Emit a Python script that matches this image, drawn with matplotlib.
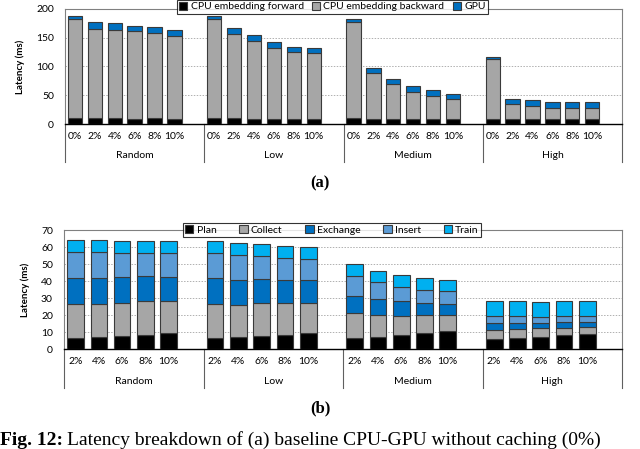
import matplotlib.pyplot as plt
import numpy as np
from matplotlib.transforms import blended_transform_factory

# ---- data (ms) ----
groups = ['Random', 'Low', 'Medium', 'High']
pct_a = ['0%', '2%', '4%', '6%', '8%', '10%']
pct_b = ['2%', '4%', '6%', '8%', '10%']

# panel (a): per group, per cache ratio
cpu_fwd = [[10, 10, 10, 9, 10, 9],
           [10, 10, 9, 9, 9, 9],
           [10, 8, 8, 8, 8, 8],
           [8, 8, 8, 8, 8, 8]]
cpu_bwd = [[173, 156, 154, 152, 149, 144],
           [172, 147, 135, 124, 116, 114],
           [168, 80, 62, 48, 41, 35],
           [105, 26, 23, 19, 19, 19]]
gpu = [[4, 11, 11, 10, 10, 10],
       [5, 10, 11, 10, 9, 10],
       [5, 10, 9, 10, 10, 9],
       [4, 10, 10, 11, 11, 11]]

# panel (b)
plan = [[6.3, 6.9, 7.8, 8.4, 9.4],
        [6.3, 6.9, 7.8, 8.4, 9.4],
        [6.3, 7.3, 8.4, 9.4, 10.4],
        [5.7, 6.7, 7.3, 8.2, 8.8]]
collect = [[20.2, 19.6, 19.5, 19.6, 19.0],
           [20.2, 19.1, 19.2, 18.6, 17.6],
           [14.7, 12.9, 11.0, 10.6, 9.6],
           [5.7, 5.3, 4.9, 4.3, 4.3]]
exchange = [[15.5, 15.5, 15.1, 15.0, 13.8],
            [15.1, 14.8, 14.4, 13.6, 13.4],
            [10.4, 9.4, 8.6, 7.3, 6.3],
            [3.7, 3.1, 2.9, 3.2, 2.9]]
insert = [[15.3, 15.3, 14.3, 13.7, 14.5],
          [15.1, 14.7, 13.5, 13.1, 12.7],
          [11.6, 9.8, 8.5, 7.6, 7.6],
          [4.3, 4.3, 3.9, 3.7, 3.6]]
train = [[6.7, 6.7, 6.8, 6.8, 6.8],
         [6.8, 7.0, 6.7, 7.1, 6.9],
         [7.0, 6.5, 6.8, 7.1, 6.7],
         [8.6, 8.6, 8.6, 8.6, 8.4]]

plt.rcParams['font.family'] = ['Lato', 'DejaVu Sans']
fig = plt.figure(figsize=(6.4, 4.49), dpi=100)

edge = '#3a3a3a'


def draw_panel(ax, series, names, colors, labels, ymax, ystep):
    n = len(labels)
    slot = n + 1
    x = np.array([g * slot + i for g in range(len(groups)) for i in range(n)])
    bottom = np.zeros(len(x))
    for s, name, c in zip(series, names, colors):
        vals = np.array(s).ravel()
        ax.bar(x, vals, 0.72, bottom=bottom, color=c, edgecolor=edge,
               linewidth=0.8, label=name, zorder=3)
        bottom += vals
    ax.set_xlim(-0.5, len(groups) * slot - 0.5)
    ax.set_ylim(0, ymax)
    ax.set_yticks(np.arange(0, ymax + 1, ystep))
    ax.tick_params(axis='y', length=0, pad=8, labelsize=7.5)
    ax.set_xticks(x)
    ax.set_xticklabels(labels * len(groups))
    ax.tick_params(axis='x', length=0, pad=6, labelsize=7.5)
    ax.grid(axis='y', linestyle=(0, (1.5, 1.5)), color='#b0b0b0', linewidth=0.7, zorder=0)
    for sp in ['left', 'right', 'top']:
        ax.spines[sp].set_color('#808080')
        ax.spines[sp].set_linewidth(0.8)
    ax.spines['bottom'].set_color('black')
    ax.spines['bottom'].set_linewidth(1.0)
    ax.set_ylabel('Latency (ms)', fontsize=7, fontweight='bold', labelpad=8)

    # group separators and group names below the tick labels
    tr = blended_transform_factory(ax.transData, ax.transAxes)
    for g in range(len(groups) + 1):
        xs = g * slot - 0.5
        ax.plot([xs, xs], [0, -0.33], transform=tr, color='#606060', lw=0.8, clip_on=False)
    for g, name in enumerate(groups):
        ax.text(g * slot + (slot - 1) / 2, -0.27, name, transform=tr,
                ha='center', va='center', fontsize=7.5)


ax_a = fig.add_axes([0.1016, 0.7238, 0.8703, 0.2562])
draw_panel(ax_a, [cpu_fwd, cpu_bwd, gpu],
           ['CPU embedding forward', 'CPU embedding backward', 'GPU'],
           ['black', '#a6a6a6', '#0070c0'], pct_a, 200, 50)
leg = ax_a.legend(loc='center', bbox_to_anchor=(0.48, 1.02), ncol=3, fontsize=7.5,
                  frameon=True, fancybox=False, edgecolor='black', handlelength=0.8,
                  handleheight=0.8, handletextpad=0.3, columnspacing=0.8,
                  borderpad=0.2, borderaxespad=0)
leg.get_frame().set_linewidth(0.8)

ax_b = fig.add_axes([0.1000, 0.2227, 0.8719, 0.2650])
draw_panel(ax_b, [plan, collect, exchange, insert, train],
           ['Plan', 'Collect', 'Exchange', 'Insert', 'Train'],
           ['black', '#a6a6a6', '#0070c0', '#5b9bd5', '#00b0f0'], pct_b, 70, 10)
leg = ax_b.legend(loc='center', bbox_to_anchor=(0.48, 1.0), ncol=5, fontsize=7.5,
                  frameon=True, fancybox=False, edgecolor='black', handlelength=0.8,
                  handleheight=0.8, handletextpad=0.3, columnspacing=2.2,
                  borderpad=0.2, borderaxespad=0)
leg.get_frame().set_linewidth(0.8)

serif = ['Liberation Serif', 'DejaVu Serif']
fig.text(0.5, 1 - 183 / 449, '(a)', ha='center', va='center', fontsize=12,
         fontweight='bold', family=serif)
fig.text(0.5, 1 - 408 / 449, '(b)', ha='center', va='center', fontsize=12,
         fontweight='bold', family=serif)
fig.text(0.0, 1 - 445 / 449, 'Fig. 12:', ha='left', va='baseline', fontsize=14,
         fontweight='bold', family=serif)
fig.text(0.105, 1 - 445 / 449, 'Latency breakdown of (a) baseline CPU-GPU without caching (0%)',
         ha='left', va='baseline', fontsize=14, family=serif)

fig.savefig('out.png', dpi=100)
